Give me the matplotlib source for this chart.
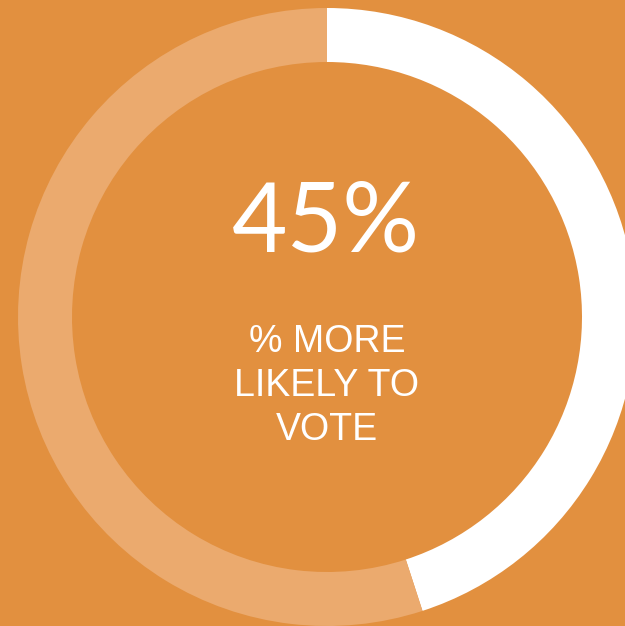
import matplotlib.pyplot as plt

# share of respondents more likely to vote
share = 45
parts = [share, 100 - share]
ring_colors = ['#ffffff', '#ebaa6e']
bg = '#e2903f'
big_label = f'{share}%'
caption = '% MORE\nLIKELY TO\nVOTE'

W, H = 625, 626
fig = plt.figure(figsize=(W / 100, H / 100), dpi=100, facecolor=bg)
ax = fig.add_axes([0, 0, 1, 1])
ax.set_facecolor(bg)

# donut ring, white arc runs clockwise from 12 o'clock
ax.pie(parts, colors=ring_colors, startangle=90, counterclock=False,
       radius=309, center=(327, H - 317),
       wedgeprops=dict(width=54, linewidth=0))

ax.set_xlim(0, W)
ax.set_ylim(0, H)
ax.set_aspect('equal')
ax.axis('off')

ax.text(326, H - 252, big_label, ha='center', va='baseline', color='white',
        fontsize=69, family='Lato')
ax.text(327, H - 386, caption, ha='center', va='center', color='white',
        fontsize=27, family='Liberation Sans', linespacing=1.3)

fig.savefig('out.png', dpi=100, facecolor=bg)
